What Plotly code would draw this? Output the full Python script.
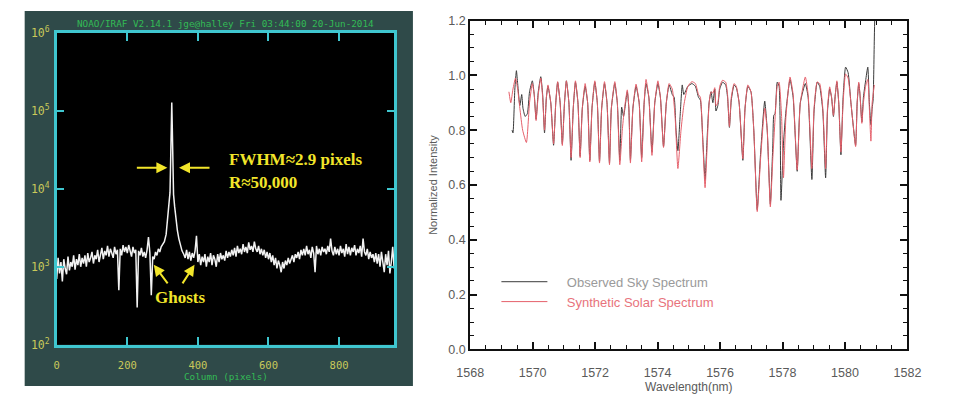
import plotly.graph_objects as go

# ---------------- data: left panel (IRAF column plot) ----------------
peak_cols = [300, 305, 310, 314, 318, 321, 323, 324.5, 326, 327.5, 329, 331, 334, 338, 342, 346, 350, 355, 360]
column = list(range(0, 300, 4)) + peak_cols + list(range(364, 960, 4))
counts = [
    # 0 - 96
    700, 1300, 820, 1150, 650, 1250, 950, 800, 1350, 900, 1150, 1000, 1400, 920, 1250, 1050, 1450, 1000, 1300, 1100, 1400, 1000, 1500, 1150, 1300,
    # 100 - 196
    1550, 1100, 1400, 1250, 1650, 1150, 1450, 1750, 1250, 1600, 1400, 1850, 1350, 1700, 1500, 1300, 1800, 1450, 1650, 500, 1700, 1400, 1900, 1550, 1800,
    # 200 - 296
    1500, 1900, 1550, 1350, 1800, 1500, 1650, 300, 1600, 1400, 1750, 1350, 1550, 1300, 1650, 2400, 1500, 430, 1350, 1250, 1550, 1400, 1700, 1550, 1800,
    # peak 300 - 360
    1900, 2100, 2600, 3800, 5800, 9000, 25000, 70000, 128000, 60000, 20000, 8500, 6000, 3800, 2900, 2300, 1900, 1600, 1450,
    # 364 - 396
    1300, 1650, 1250, 1550, 1200, 1500, 1300, 1600, 2500,
    # 400 - 496
    1150, 1450, 1050, 1350, 1150, 1450, 1000, 1350, 1150, 1500, 1050, 1400, 1250, 1000, 1450, 1150, 1500, 1250, 1400, 1200, 1600, 1300, 1550, 1350, 1650,
    # 500 - 596
    1400, 1750, 1350, 1850, 1500, 1700, 1450, 1950, 1550, 1800, 1500, 2050, 1650, 1850, 1550, 2100, 1700, 1550, 1850, 1450, 1700, 1400, 1650, 1300, 1550,
    # 600 - 696
    1250, 1500, 1150, 1400, 1050, 1300, 950, 1200, 1050, 850, 1150, 950, 1200, 1050, 1300, 1100, 1250, 1400, 1150, 1450, 1300, 1550, 1250, 1650, 1400,
    # 700 - 796
    1700, 1400, 1850, 1450, 1650, 1300, 1800, 1500, 850, 1850, 1450, 1700, 1400, 1800, 1550, 1700, 1450, 1850, 1550, 2300, 1600, 1400, 1800, 1450, 1700,
    # 800 - 896
    1400, 1850, 1500, 1700, 1350, 1950, 1450, 1800, 1400, 1750, 1550, 1900, 1400, 1700, 1500, 1850, 1350, 2300, 1550, 1400, 1700, 1250, 1550, 1300, 1450,
    # 900 - 956
    1150, 1500, 1100, 1450, 1000, 1550, 1200, 850, 1450, 1050, 1600, 820, 1150, 1800, 950,
]

left_xticks = [0, 200, 400, 600, 800]
left_yticks = [1e2, 1e3, 1e4, 1e5, 1e6]
left_yticktext = ["10<sup>2</sup>", "10<sup>3</sup>", "10<sup>4</sup>", "10<sup>5</sup>", "10<sup>6</sup>"]

# ---------------- data: right panel (spectra) ----------------
wl_syn = [1569.24, 1569.30, 1569.37, 1569.45, 1569.52, 1569.59, 1569.68, 1569.80, 1569.90, 1569.99,
          1570.05, 1570.11, 1570.18, 1570.26, 1570.32, 1570.38, 1570.44, 1570.49, 1570.58, 1570.67,
          1570.74, 1570.80, 1570.88, 1570.95, 1571.02, 1571.08, 1571.16, 1571.23, 1571.30, 1571.37,
          1571.45, 1571.52, 1571.59, 1571.68, 1571.76, 1571.83, 1571.90, 1571.99, 1572.07, 1572.14,
          1572.21, 1572.30, 1572.38, 1572.46, 1572.52, 1572.63, 1572.71, 1572.79, 1572.87, 1572.93,
          1573.03, 1573.08, 1573.13, 1573.21, 1573.31, 1573.41, 1573.49, 1573.57, 1573.63, 1573.72,
          1573.82, 1573.91, 1574.01, 1574.09, 1574.19, 1574.28, 1574.37, 1574.47, 1574.56, 1574.65,
          1574.75, 1574.84, 1574.97, 1575.10, 1575.21, 1575.31, 1575.37, 1575.45, 1575.52, 1575.59,
          1575.65, 1575.71, 1575.77, 1575.83, 1575.87, 1575.93, 1575.99, 1576.08, 1576.18, 1576.24,
          1576.30, 1576.36, 1576.45, 1576.52, 1576.61, 1576.73, 1576.80, 1576.89, 1576.99, 1577.08,
          1577.19, 1577.30, 1577.43, 1577.51, 1577.61, 1577.69, 1577.76, 1577.83, 1577.89, 1577.97,
          1578.03, 1578.11, 1578.24, 1578.34, 1578.47, 1578.57, 1578.73, 1578.82, 1578.94, 1579.01,
          1579.11, 1579.19, 1579.29, 1579.38, 1579.44, 1579.51, 1579.57, 1579.63, 1579.69, 1579.74,
          1579.80, 1579.87, 1579.94, 1580.02, 1580.10, 1580.19, 1580.34, 1580.39, 1580.44, 1580.48,
          1580.54, 1580.59, 1580.66, 1580.73, 1580.78, 1580.83, 1580.87, 1580.94]
int_syn = [0.94, 0.90, 0.95, 0.99, 0.95, 0.88, 0.80, 0.755, 0.90, 0.97,
           0.93, 0.835, 0.93, 0.99, 0.92, 0.80, 0.92, 0.965, 0.90, 0.75,
           0.90, 0.977, 0.90, 0.744, 0.90, 0.98, 0.90, 0.70, 0.88, 0.98,
           0.90, 0.70, 0.88, 0.97, 0.90, 0.684, 0.88, 0.98, 0.90, 0.68,
           0.88, 0.977, 0.90, 0.674, 0.88, 0.977, 0.90, 0.674, 0.80, 0.87,
           0.947, 0.88, 0.68, 0.88, 0.968, 0.90, 0.684, 0.90, 0.985, 0.92,
           0.708, 0.90, 0.98, 0.92, 0.737, 0.90, 0.97, 0.95, 0.85, 0.66,
           0.80, 0.89, 0.96, 0.977, 0.97, 0.93, 0.92, 0.75, 0.59, 0.75,
           0.90, 0.94, 0.935, 0.955, 0.889, 0.90, 0.96, 0.982, 0.975, 0.93,
           0.813, 0.92, 0.97, 0.96, 0.90, 0.696, 0.88, 0.965, 0.94, 0.80,
           0.503, 0.70, 0.88, 0.80, 0.52, 0.70, 0.84, 0.96, 0.975, 0.85,
           0.626, 0.85, 0.994, 0.93, 0.655, 0.90, 0.994, 0.93, 0.66, 0.88,
           0.976, 0.97, 0.88, 0.66, 0.88, 0.958, 0.92, 0.854, 0.93, 0.98,
           0.90, 0.72, 0.90, 1.005, 0.99, 0.90, 0.74, 0.90, 0.975, 0.93,
           0.825, 0.90, 0.96, 0.985, 0.88, 0.76, 0.90, 0.965]

wl_obs = [1569.34, 1569.37, 1569.43, 1569.48, 1569.52, 1569.59, 1569.65, 1569.69, 1569.76, 1569.83,
          1569.90, 1569.99, 1570.05, 1570.11, 1570.18, 1570.26, 1570.32, 1570.38, 1570.44, 1570.49,
          1570.58, 1570.67, 1570.74, 1570.80, 1570.88, 1570.95, 1571.02, 1571.08, 1571.16, 1571.23,
          1571.30, 1571.37, 1571.45, 1571.52, 1571.59, 1571.68, 1571.76, 1571.83, 1571.90, 1571.99,
          1572.07, 1572.14, 1572.21, 1572.30, 1572.38, 1572.46, 1572.52, 1572.63, 1572.71, 1572.79,
          1572.85, 1572.91, 1573.03, 1573.08, 1573.13, 1573.21, 1573.31, 1573.41, 1573.49, 1573.57,
          1573.63, 1573.72, 1573.82, 1573.91, 1574.01, 1574.09, 1574.19, 1574.28, 1574.37, 1574.47,
          1574.53, 1574.59, 1574.65, 1574.72, 1574.79, 1574.84, 1574.97, 1575.10, 1575.21, 1575.31,
          1575.37, 1575.45, 1575.52, 1575.59, 1575.65, 1575.71, 1575.77, 1575.83, 1575.87, 1575.93,
          1575.99, 1576.08, 1576.18, 1576.24, 1576.30, 1576.36, 1576.45, 1576.52, 1576.61, 1576.73,
          1576.80, 1576.89, 1576.99, 1577.08, 1577.19, 1577.30, 1577.43, 1577.51, 1577.61, 1577.69,
          1577.72, 1577.76, 1577.83, 1577.89, 1577.95, 1578.03, 1578.11, 1578.24, 1578.34, 1578.47,
          1578.57, 1578.73, 1578.82, 1578.94, 1579.01, 1579.11, 1579.19, 1579.29, 1579.38, 1579.44,
          1579.51, 1579.57, 1579.63, 1579.69, 1579.74, 1579.80, 1579.87, 1579.94, 1580.02, 1580.10,
          1580.19, 1580.34, 1580.39, 1580.44, 1580.48, 1580.54, 1580.59, 1580.66, 1580.73, 1580.78,
          1580.83, 1580.87, 1580.90, 1580.94, 1580.96]
int_obs = [0.80, 0.79, 0.95, 1.017, 0.97, 0.89, 0.93, 0.88, 0.85, 0.86,
           0.94, 0.98, 0.93, 0.84, 0.94, 0.995, 0.93, 0.79, 0.92, 0.96,
           0.90, 0.745, 0.90, 0.975, 0.90, 0.75, 0.90, 0.98, 0.90, 0.69,
           0.88, 0.975, 0.90, 0.705, 0.88, 0.96, 0.90, 0.69, 0.88, 0.975,
           0.90, 0.685, 0.88, 0.97, 0.90, 0.68, 0.88, 0.97, 0.90, 0.69,
           0.884, 0.85, 0.94, 0.88, 0.69, 0.88, 0.96, 0.90, 0.70, 0.90,
           0.97, 0.92, 0.72, 0.90, 0.97, 0.92, 0.74, 0.90, 0.965, 0.93,
           0.92, 0.80, 0.725, 0.85, 0.965, 0.93, 0.96, 0.97, 0.96, 0.92,
           0.91, 0.76, 0.62, 0.78, 0.90, 0.94, 0.90, 0.95, 0.87, 0.89,
           0.95, 0.975, 0.965, 0.92, 0.81, 0.91, 0.965, 0.955, 0.90, 0.69,
           0.88, 0.96, 0.94, 0.80, 0.51, 0.72, 0.906, 0.80, 0.53, 0.75,
           0.854, 0.86, 0.975, 0.96, 0.544, 0.75, 0.87, 0.985, 0.92, 0.65,
           0.90, 0.97, 0.92, 0.62, 0.87, 0.975, 0.96, 0.87, 0.626, 0.87,
           0.95, 0.92, 0.85, 0.93, 0.975, 0.90, 0.71, 0.92, 1.03, 1.01,
           0.90, 0.745, 0.90, 0.97, 0.93, 0.83, 0.92, 0.98, 1.03, 0.90,
           0.82, 0.88, 0.91, 1.14, 1.25]

right_xticks = [1568, 1570, 1572, 1574, 1576, 1578, 1580, 1582]
right_yticks = [0.0, 0.2, 0.4, 0.6, 0.8, 1.0, 1.2]

# ---------------- layout helpers (pixel -> paper) ----------------
W, H = 953, 394
def PX(x):
    return x / W
def PY(y):
    return (H - y) / H

TEAL = "#2f4a49"
CYAN = "#3fc6cf"
YEL_TICK = "#c9c95a"
GREEN = "#33bb55"
YEL = "#f2e52a"
GRAY = "#5a5a5a"
NB = "\u00a0"

fig = go.Figure()

fig.add_trace(go.Scatter(x=column, y=counts, xaxis="x", yaxis="y", mode="lines",
                         line=dict(color="#f2f2f2", width=1.5), showlegend=False,
                         hoverinfo="skip"))
fig.add_trace(go.Scatter(x=wl_obs, y=int_obs, xaxis="x2", yaxis="y2", mode="lines",
                         name=NB * 4 + "Observed Sky Spectrum",
                         line=dict(color="#3a3a3a", width=1, shape="spline", smoothing=0.5)))
fig.add_trace(go.Scatter(x=wl_syn, y=int_syn, xaxis="x2", yaxis="y2", mode="lines",
                         name=NB * 4 + "<span style='color:#e8737c'>Synthetic Solar Spectrum</span>",
                         line=dict(color="#e5606b", width=1, shape="spline", smoothing=0.5)))

mono = "DejaVu Sans Mono"
fig.update_layout(
    width=W, height=H, margin=dict(l=0, r=0, t=0, b=0),
    paper_bgcolor="white", plot_bgcolor="rgba(0,0,0,0)",
    showlegend=True,
    xaxis=dict(domain=[PX(44), PX(392)], anchor="y", range=[0, 957],
               showgrid=False, zeroline=False, showline=True, linecolor=CYAN, linewidth=2.5,
               mirror="ticks", ticks="inside", ticklen=8, tickwidth=2, tickcolor=CYAN,
               tickvals=left_xticks, ticklabelstandoff=9,
               tickfont=dict(family=mono, size=10.5, color=YEL_TICK)),
    yaxis=dict(domain=[PY(350), PY(26)], anchor="x", type="log", range=[2, 6],
               showgrid=False, zeroline=False, showline=True, linecolor=CYAN, linewidth=2.5,
               mirror="ticks", ticks="inside", ticklen=8, tickwidth=2, tickcolor=CYAN,
               tickvals=left_yticks, ticktext=left_yticktext, ticklabelstandoff=2,
               tickfont=dict(family=mono, size=11.5, color=YEL_TICK)),
    xaxis2=dict(domain=[PX(470), PX(920.5)], anchor="y2", range=[1568, 1582],
                showgrid=False, zeroline=False, showline=True, linecolor="#111", linewidth=2,
                mirror="allticks", ticks="inside", ticklen=7, tickwidth=1.5, tickcolor="#111",
                tickvals=right_xticks, ticklabelstandoff=11,
                minor=dict(dtick=0.5, ticks="inside", ticklen=4, tickwidth=1.2, tickcolor="#111"),
                tickfont=dict(family="Liberation Sans", size=12.5, color=GRAY),
                title=dict(text="Wavelength(nm)", standoff=0,
                           font=dict(family="Liberation Sans", size=12, color=GRAY))),
    yaxis2=dict(domain=[PY(355), PY(13)], anchor="x2", range=[0, 1.2],
                showgrid=False, zeroline=False, showline=True, linecolor="#111", linewidth=2,
                mirror="allticks", ticks="inside", ticklen=7, tickwidth=1.5, tickcolor="#111",
                tickvals=right_yticks, tickformat=".1f",
                minor=dict(dtick=0.05, ticks="inside", ticklen=4, tickwidth=1.2, tickcolor="#111"),
                tickfont=dict(family="Liberation Sans", size=12.5, color=GRAY),
                title=dict(text="Normalized Intensity", standoff=8,
                           font=dict(family="Liberation Sans", size=11, color=GRAY))),
    legend=dict(x=PX(497), y=PY(269), xanchor="left", yanchor="top",
                bgcolor="rgba(0,0,0,0)", borderwidth=0, itemwidth=46, tracegroupgap=0,
                font=dict(family="Liberation Sans", size=13, color="#9a9a9a")),
    shapes=[
        dict(type="rect", xref="paper", yref="paper", x0=PX(11), x1=PX(411), y0=PY(393), y1=PY(3),
             fillcolor=TEAL, line=dict(width=0), layer="below"),
        dict(type="rect", xref="x domain", yref="y domain", x0=0, x1=1, y0=0, y1=1,
             fillcolor="black", line=dict(width=0), layer="below"),
    ],
)

ann = [
    dict(text="NOAO/IRAF V2.14.1 jge@halley Fri 03:44:00 20-Jun-2014", x=PX(218), y=PY(16),
         font=dict(family=mono, size=9.3, color=GREEN)),
    dict(text="Column (pixels)", x=PX(218), y=PY(383),
         font=dict(family=mono, size=9.3, color=GREEN)),
    dict(text="<b>FWHM≈2.9 pixels</b>", x=PX(219), y=PY(158), xanchor="left",
         font=dict(family="Liberation Serif", size=17, color=YEL)),
    dict(text="<b>R≈50,000</b>", x=PX(219), y=PY(181), xanchor="left",
         font=dict(family="Liberation Serif", size=17, color=YEL)),
    dict(text="<b>Ghosts</b>", x=PX(171), y=PY(301),
         font=dict(family="Liberation Serif", size=17, color=YEL)),
]
for a in ann:
    a.setdefault("xanchor", "center")
    a.update(xref="paper", yref="paper", showarrow=False, yanchor="middle")

arrows = [((158, 166), (126, 166)), ((170, 166), (202, 166)),
          ((144, 267), (159, 287)), ((186, 267), (173, 287))]
for (tx, ty), (sx, sy) in arrows:
    ann.append(dict(xref="paper", yref="paper", x=PX(tx), y=PY(ty), ax=sx - tx, ay=sy - ty,
                    text="", showarrow=True, arrowhead=2, arrowsize=1.1, arrowwidth=2,
                    arrowcolor=YEL))
fig.update_layout(annotations=ann)

fig.write_html("out.html")
